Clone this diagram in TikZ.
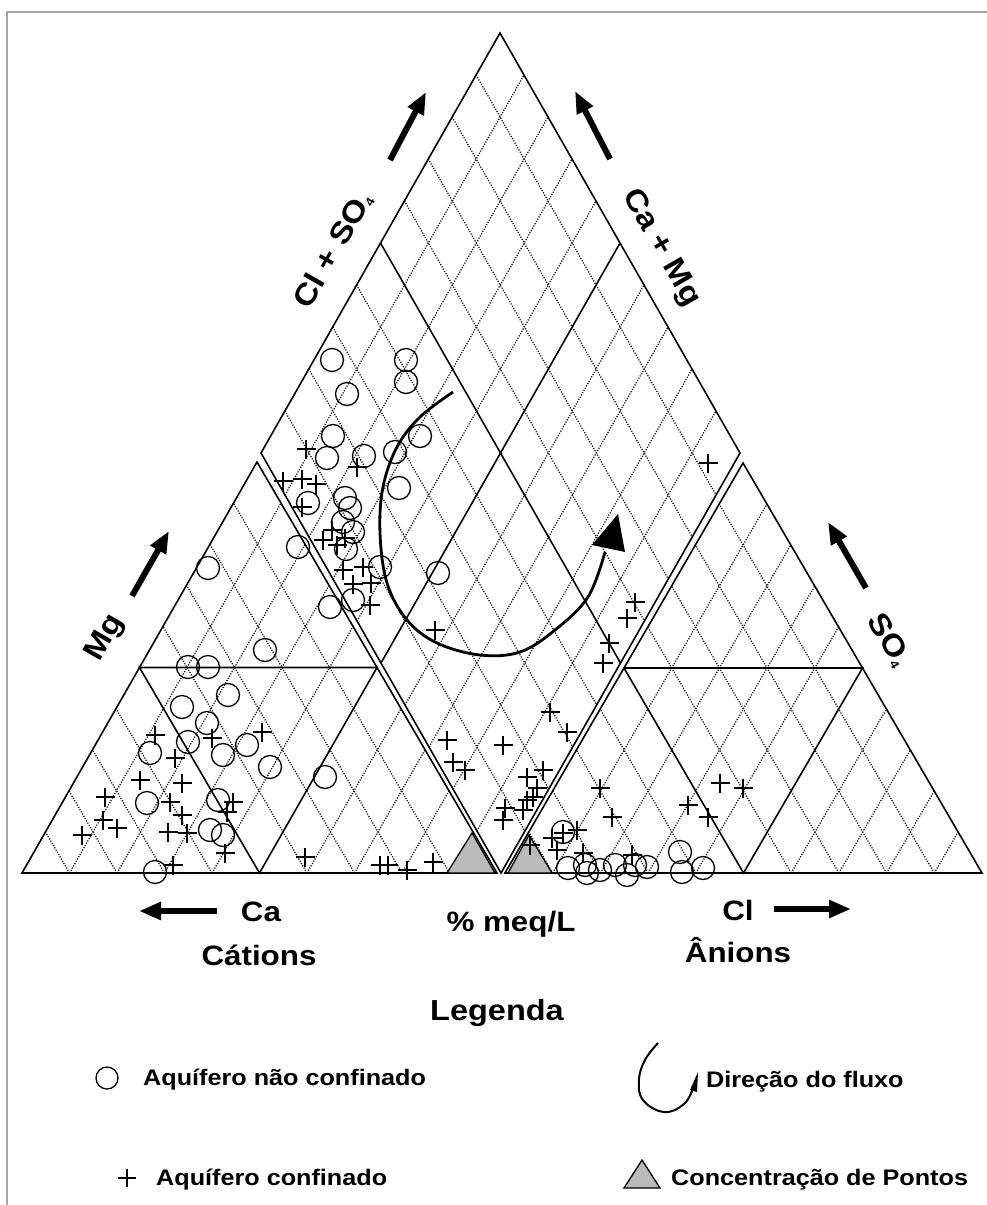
\documentclass[tikz,border=0pt]{standalone}
\usepackage{fontspec}
\setmainfont{Liberation Sans}[FakeStretch=1.12]
\usetikzlibrary{calc,arrows.meta}
\newcommand{\trigrid}[3]{%
  \foreach \t in {0.1,0.2,0.3,0.4,0.6,0.7,0.8,0.9}{%
    \draw[gridline] ($(#1)!\t!(#2)$) -- ($(#3)!\t!(#2)$);
    \draw[gridline] ($(#1)!\t!(#2)$) -- ($(#1)!\t!(#3)$);
  }%
  \draw[frameline] ($(#1)!0.5!(#2)$) -- ($(#3)!0.5!(#2)$) -- ($(#1)!0.5!(#3)$) -- cycle;
  \draw[frameline] (#1) -- (#2) -- (#3) -- cycle;
}
\begin{document}
\begin{tikzpicture}[x=1pt,y=-1pt,
  gridline/.style={line width=1.25pt, dash pattern=on 1.1pt off 1.5pt, black},
  frameline/.style={line width=1.6pt, black, line join=miter},
  ptcirc/.style={line width=1.3pt, black},
  ptplus/.style={line width=1.4pt, black},
  bigarrow/.style={line width=6pt, -{Triangle[length=22pt,width=17pt]}},
  lbl/.style={font=\bfseries\fontsize{28}{30}\selectfont, inner sep=0pt},
  rlbl/.style={font=\bfseries\fontsize{30}{32}\selectfont, inner sep=0pt},
  leg/.style={font=\bfseries\fontsize{22.5}{24}\selectfont, inner sep=0pt, anchor=west},
  conc/.style={fill=black!27, draw=black, line width=1.3pt, line join=miter}]
\useasboundingbox (0,0) rectangle (987,1205);
\fill[white] (0,0) rectangle (987,1205);
\draw[black!35, line width=1.5pt] (7,1205) -- (7,12) -- (987,12);

% corners
\coordinate (L1) at (22,873);
\coordinate (L2) at (497,873);
\coordinate (L3) at (257,462);
\coordinate (R1) at (505,873);
\coordinate (R2) at (982,873);
\coordinate (R3) at (743,463);
\coordinate (T) at (500,33);
\coordinate (DL) at (261,453);
\coordinate (DB) at (501,873);
\coordinate (DR) at (740,453);

% small triangles
\trigrid{L1}{L2}{L3}
\trigrid{R1}{R2}{R3}

% diamond
\foreach \t in {0.1,0.2,0.3,0.4,0.6,0.7,0.8,0.9}{%
  \draw[gridline] ($(DL)!\t!(DB)$) -- ($(T)!\t!(DR)$);
  \draw[gridline] ($(DL)!\t!(T)$) -- ($(DB)!\t!(DR)$);
}
\draw[frameline] ($(DL)!0.5!(DB)$) -- ($(T)!0.5!(DR)$);
\draw[frameline] ($(DL)!0.5!(T)$) -- ($(DB)!0.5!(DR)$);
\draw[frameline] (T) -- (DL) -- (DB) -- (DR) -- cycle;

% concentration triangles
\draw[conc] (447,873) -- (495,873) -- (472,833) -- cycle;
\draw[conc] (508,873) -- (552,873) -- (529,835) -- cycle;

% unconfined aquifer (circles)
\foreach \x/\y in {332/360, 406/360, 406/382, 347/394, 420/436, 333/436, 327/458,
  364/456, 395/452, 399/488, 308/503, 345/498, 350/508, 343/522, 353/532, 346/549,
  298/547, 380/567, 438/573, 330/607, 353/600,
  208/568, 265/650, 188/667, 208/667, 228/695, 182/707, 207/723, 188/742, 150/753,
  223/755, 247/745, 270/767, 325/777, 147/803, 218/800, 210/830, 223/835, 155/872,
  563/832, 568/868, 585/865, 587/873, 600/870, 615/865, 627/875, 635/865, 647/867,
  680/852, 682/872, 703/868}
  \draw[ptcirc] (\x,\y) circle[radius=11.5];

% confined aquifer (plus)
\foreach \x/\y in {306/449, 357/467, 283/481, 302/479, 316/484, 302/507, 332/530,
  323/540, 337/545, 345/538, 343/570, 363/567, 353/584, 371/583, 370/605, 435/630,
  708/463,
  155/735, 212/738, 262/732, 175/758, 140/780, 182/783, 105/797, 170/802, 233/802,
  182/815, 227/812, 103/820, 117/828, 82/835, 168/832, 187/833, 225/853, 173/865,
  305/857, 380/865, 388/865, 407/870, 433/862,
  447/740, 453/762, 465/770, 635/602, 627/618, 609/643, 603/663, 550/712, 567/732,
  503/745, 527/777, 543/770, 537/788, 527/800, 505/808, 503/820, 523/810, 533/797,
  530/845, 552/838, 563/833, 577/830, 583/853, 632/855, 557/850,
  600/788, 612/817, 688/805, 708/817, 720/783, 743/788}
  \draw[ptplus] (\x,\y) ++(-9.5,0) -- ++(19,0) (\x,\y) ++(0,-9.5) -- ++(0,19);

% flow direction
\draw[line width=2.8pt] plot[smooth, tension=0.6] coordinates {(453,392) (420,417)
  (397,447) (383,487) (380,533) (387,583) (407,620) (437,643) (480,655) (520,652)
  (555,630) (588,597) (605,552)};
\fill (618,514) -- (592,545) -- (625,552) -- cycle;

% axis arrows
\coordinate (a1s) at (390,160); \coordinate (a1e) at (426,92);
\coordinate (a2s) at (610,159); \coordinate (a2e) at (575,91);
\coordinate (a3s) at (132,596); \coordinate (a3e) at (169,531);
\coordinate (a4s) at (866,588); \coordinate (a4e) at (828,522);
\coordinate (a5s) at (217,911); \coordinate (a5e) at (139,911);
\coordinate (a6s) at (774,909); \coordinate (a6e) at (851,909);
\draw[bigarrow] (a1s) -- (a1e);
\draw[bigarrow] (a2s) -- (a2e);
\draw[bigarrow] (a3s) -- (a3e);
\draw[bigarrow] (a4s) -- (a4e);
\draw[bigarrow] (a5s) -- (a5e);
\draw[bigarrow] (a6s) -- (a6e);

% axis labels
\node[rlbl, rotate=60] (lclso) at (333,250) {Cl + SO\raisebox{-0.15ex}{\fontsize{12}{12}\selectfont 4}};
\node[rlbl, rotate=-60] (lcamg) at (661,248) {Ca + Mg};
\node[rlbl, rotate=60] (lmg) at (105,638) {Mg};
\node[rlbl, rotate=-60] (lso) at (889,640) {SO\raisebox{-0.15ex}{\fontsize{12}{12}\selectfont 4}};
\node[lbl] (lca) at (261,912) {Ca};
\node[lbl] (lcat) at (259,955) {Cátions};
\node[lbl] (lmeq) at (511,924) {\% meq/L};
\node[lbl] (lcl) at (738,910) {Cl};
\node[lbl] (lan) at (738,950) {Ânions};
\node[lbl, font=\bfseries\fontsize{29}{31}\selectfont] (lleg) at (497,1013) {Legenda};

% legend
\draw[ptcirc] (107,1078) circle[radius=11];
\node[leg] (l1) at (143,1080) {Aquífero não confinado};
\draw[ptplus] (127,1178) ++(-9,0) -- ++(18,0) (127,1178) ++(0,-9) -- ++(0,18);
\node[leg] (l2) at (156,1180) {Aquífero confinado};
\draw[line width=2pt] plot[smooth, tension=0.7] coordinates {(658,1043) (645,1060)
  (639,1080) (643,1100) (664,1112) (684,1104) (693,1088)};
\fill (698,1072) -- (690,1090) -- (697,1092) -- cycle;
\node[leg] (l3) at (706,1082) {Direção do fluxo};
\draw[conc] (624,1188) -- (660,1188) -- (642,1160) -- cycle;
\node[leg] (l4) at (671,1180) {Concentração de Pontos};
\end{tikzpicture}
\end{document}
